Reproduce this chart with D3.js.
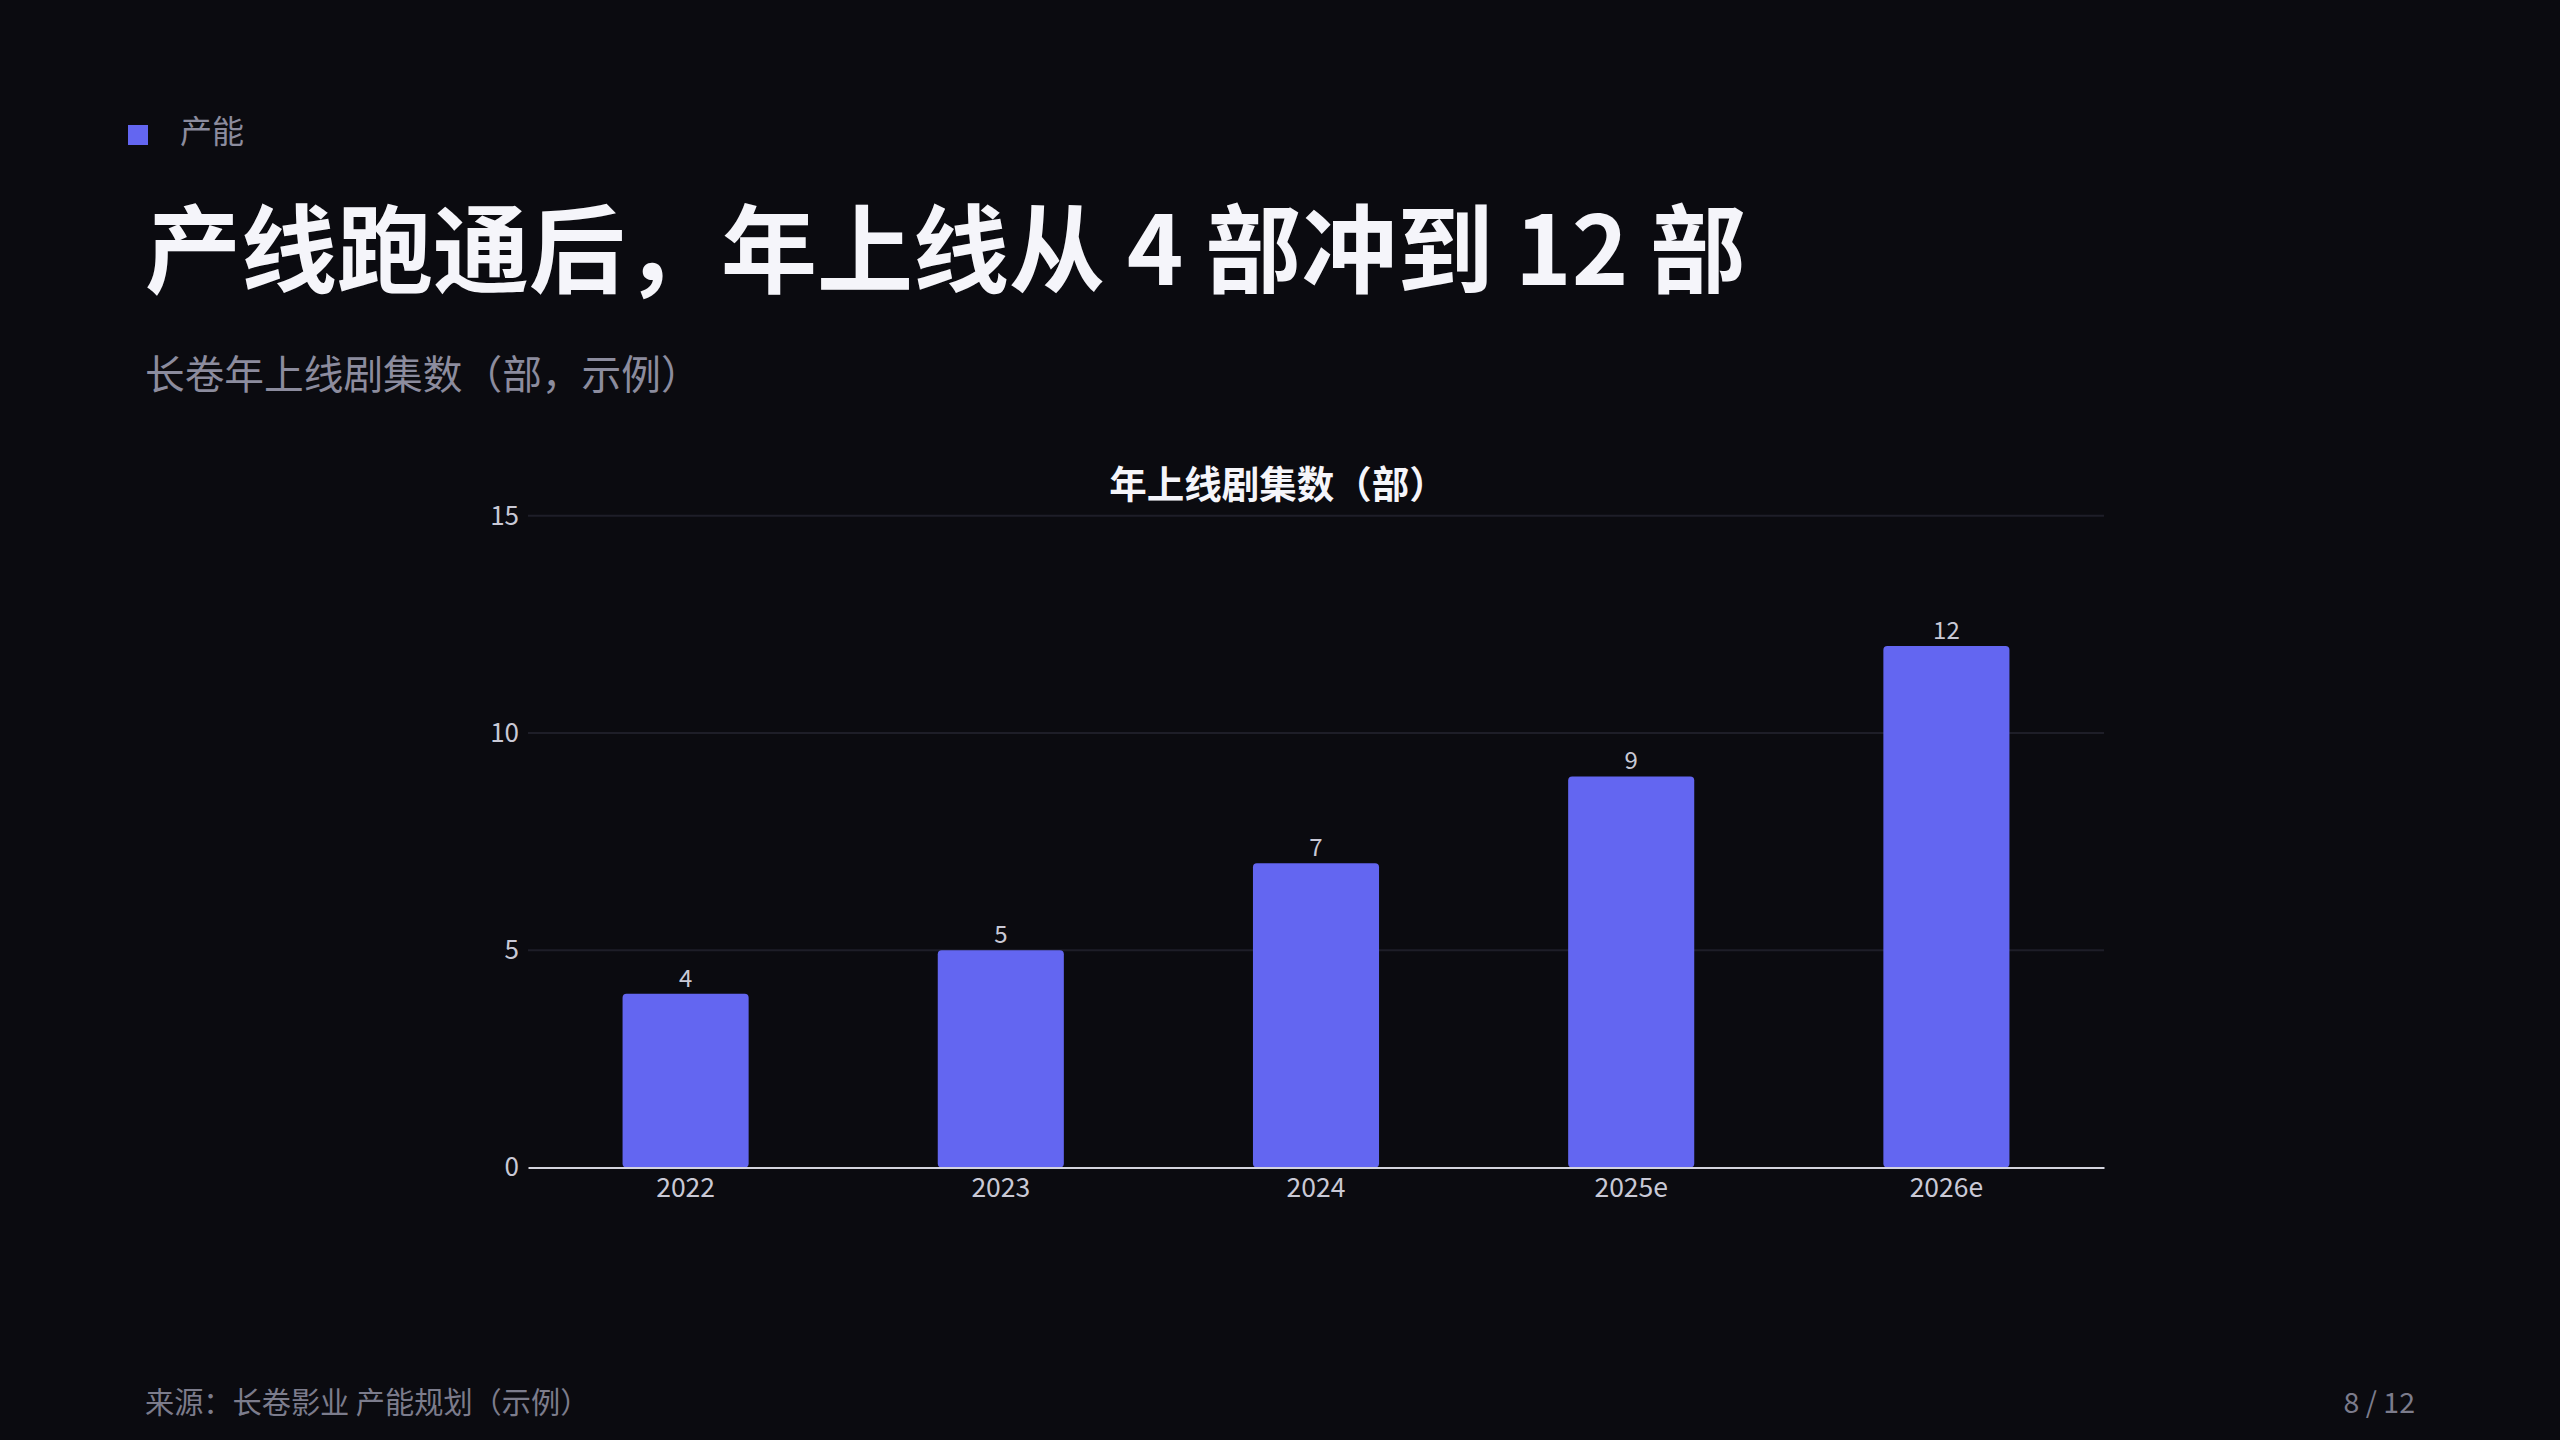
<!DOCTYPE html>
<html><head><meta charset="utf-8">
<script src="https://cdn.jsdelivr.net/npm/d3@7"></script>
<style>
html,body{margin:0;padding:0;background:#0b0b10;}
svg{display:block;font-family:"Noto Sans CJK SC","Noto Sans",sans-serif;}
</style></head>
<body>
<svg id="c" width="2560" height="1440"></svg>
<script>
const categories = ["2022", "2023", "2024", "2025e", "2026e"];
const values = [4, 5, 7, 9, 12];
const yTicks = [0, 5, 10, 15];
const tagText = "产能";
const titleText = "产线跑通后，年上线从 4 部冲到 12 部";
const subtitleText = "长卷年上线剧集数（部，示例）";
const chartTitle = "年上线剧集数（部）";
const sourceText = "来源：长卷影业 产能规划（示例）";
const pageText = "8 / 12";

(function(){
const svg = d3.select("#c");
svg.append("rect").attr("width",2560).attr("height",1440).attr("fill","#0b0b10");

// header
svg.append("rect").attr("x",128).attr("y",125).attr("width",20).attr("height",20).attr("fill","#6366f1");
svg.append("text").attr("x",180).attr("y",143).attr("font-size",32).attr("fill","#8c8c9e").text(tagText);
svg.append("text").attr("x",145).attr("y",285).attr("font-size",96).attr("font-weight",700).attr("fill","#f5f5fa").text(titleText);
svg.append("text").attr("x",145).attr("y",389).attr("font-size",39.7).attr("fill","#8c8c9e").text(subtitleText);

// chart
const pl = 528, pr = 2104, pt = 515.7, pb = 1167.5;
const x = d3.scaleBand().domain(categories).range([pl, pr]).paddingInner(0.6).paddingOuter(0.3);
const y = d3.scaleLinear().domain([0, 15]).range([pb, pt]);

svg.append("text").attr("x",1278).attr("y",498).attr("text-anchor","middle").attr("font-size",37.5).attr("font-weight",700).attr("fill","#f5f5fa").text(chartTitle);

// grid
svg.append("g").selectAll("line").data(yTicks.filter(d=>d>0)).join("line")
  .attr("x1",pl).attr("x2",pr).attr("y1",d=>y(d)).attr("y2",d=>y(d))
  .attr("stroke","#1e1e28").attr("stroke-width",2);

// y axis labels
const yAxis = svg.append("g").attr("transform",`translate(${pl},0)`)
  .call(d3.axisLeft(y).tickValues(yTicks).tickSize(0).tickPadding(9));
yAxis.select(".domain").remove();
yAxis.selectAll("text").attr("font-size",26).attr("fill","#c9c9d6").attr("font-family","'Noto Sans CJK SC','Noto Sans',sans-serif");

// bars
svg.append("g").selectAll("rect").data(values).join("rect")
  .attr("x",(d,i)=>x(categories[i])).attr("width",x.bandwidth())
  .attr("y",d=>y(d)).attr("height",d=>pb - y(d))
  .attr("rx",4).attr("fill","#6366f1");

// value labels
svg.append("g").selectAll("text").data(values).join("text")
  .attr("x",(d,i)=>x(categories[i])+x.bandwidth()/2).attr("y",d=>y(d)-7)
  .attr("text-anchor","middle").attr("font-size",24).attr("fill","#c9c9d6").text(d=>d);

// x axis
const xAxis = svg.append("g").attr("transform",`translate(0,${pb})`)
  .call(d3.axisBottom(x).tickSize(0).tickPadding(11));
xAxis.select(".domain").attr("stroke","#d4d4de").attr("stroke-width",2);
xAxis.selectAll("text").attr("font-size",26.5).attr("fill","#c9c9d6").attr("font-family","'Noto Sans CJK SC','Noto Sans',sans-serif");

// footer
svg.append("text").attr("x",145).attr("y",1413).attr("font-size",29.2).attr("fill","#7c7c8c").text(sourceText);
svg.append("text").attr("x",2415).attr("y",1413).attr("text-anchor","end").attr("font-size",28.5).attr("fill","#7c7c8c").text(pageText);
})();
</script>
</body></html>
